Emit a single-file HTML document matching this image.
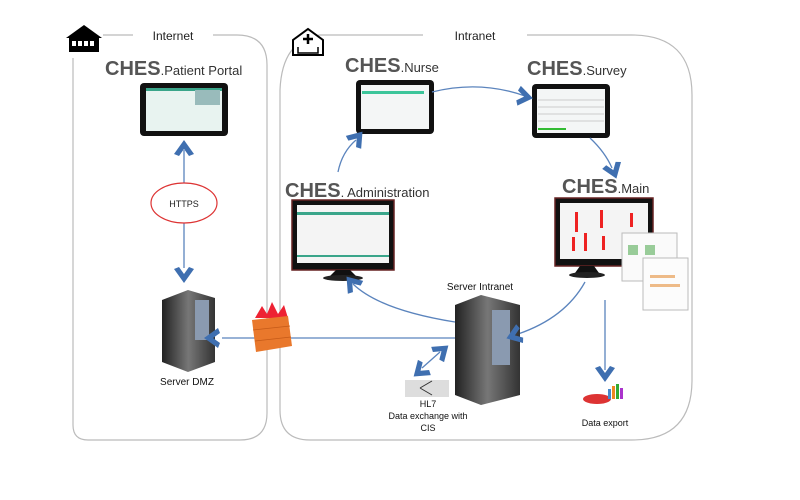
<!DOCTYPE html>
<html><head><meta charset="utf-8"><style>
html,body{margin:0;padding:0;background:#fff;width:800px;height:500px;overflow:hidden}
text{font-family:"Liberation Sans",sans-serif}
</style></head><body>
<svg width="800" height="500" viewBox="0 0 800 500" xmlns="http://www.w3.org/2000/svg">
<defs>
<path id="chev" d="M-10,7 L0,-7 L10,7 L5,9 L0,2 L-5,9 Z" fill="#3f6fb0"/>
<linearGradient id="srv" x1="0" x2="1"><stop offset="0" stop-color="#222"/><stop offset=".5" stop-color="#777"/><stop offset="1" stop-color="#333"/></linearGradient>
<g id="tab"><rect x="0" y="0" width="78" height="54" rx="4" fill="#111"/><rect x="5" y="5" width="68" height="44" fill="#f4f6f6"/></g>
</defs>
<path d="M73,58 V425 Q73,440 88,440 H240 Q267,440 267,413 V65 Q267,35 237,35 H213 M133,35 H103" fill="none" stroke="#bbb" stroke-width="1.2"/>
<path d="M280,90 V410 Q280,440 310,440 H632 Q692,440 692,380 V95 Q692,35 632,35 H527 M423,35 H320 Q282,40 280,90" fill="none" stroke="#bbb" stroke-width="1.2"/>
<text x="173" y="40" font-size="12" text-anchor="middle" fill="#222">Internet</text>
<text x="475" y="40" font-size="12" text-anchor="middle" fill="#222">Intranet</text>
<path d="M66,38 L84,25 L102,38 Z" fill="#000"/><rect x="69" y="37" width="30" height="15" fill="#000"/>
<rect x="72" y="41" width="4" height="5" fill="#fff"/><rect x="78" y="41" width="4" height="5" fill="#fff"/><rect x="84" y="41" width="4" height="5" fill="#fff"/><rect x="90" y="41" width="4" height="5" fill="#fff"/>
<path d="M293,55 V40 L308,29 L323,40 V55 Z" fill="#fff" stroke="#000" stroke-width="2"/>
<path d="M308,34 V44 M303,39 H313" stroke="#000" stroke-width="2.5"/><path d="M298,47 V53 H318 V47" fill="none" stroke="#000" stroke-width="1.5"/>
<g font-size="20" fill="#555" font-weight="bold">
<text x="105" y="75">CHES<tspan font-size="13" font-weight="normal" fill="#333">.Patient Portal</tspan></text>
<text x="345" y="72">CHES<tspan font-size="13" font-weight="normal" fill="#333">.Nurse</tspan></text>
<text x="527" y="75">CHES<tspan font-size="13" font-weight="normal" fill="#333">.Survey</tspan></text>
<text x="285" y="197">CHES<tspan font-size="13" font-weight="normal" fill="#333">. Administration</tspan></text>
<text x="562" y="193">CHES<tspan font-size="13" font-weight="normal" fill="#333">.Main</tspan></text>
</g>
<rect x="140" y="83" width="88" height="53" rx="4" fill="#111"/><rect x="146" y="88" width="76" height="43" fill="#e8f3f0"/><rect x="146" y="88" width="76" height="3" fill="#3aa58a"/><rect x="195" y="90" width="25" height="15" fill="#9bb"/>
<use href="#tab" x="356" y="80"/><rect x="362" y="91" width="62" height="3" fill="#3cc59a"/>
<use href="#tab" x="532" y="84"/><g stroke="#ccc"><path d="M538,100H604M538,107H604M538,114H604M538,121H604"/></g><rect x="538" y="128" width="28" height="2" fill="#3b3"/>
<rect x="292" y="200" width="102" height="70" fill="#111" stroke="#622" stroke-width="1.5"/><rect x="297" y="205" width="92" height="58" fill="#f4f4f4"/><rect x="297" y="212" width="92" height="3" fill="#3aa58a"/><rect x="297" y="255" width="92" height="2" fill="#3aa58a"/>
<path d="M336,270 h14 l6,6 h-26 z" fill="#111"/><ellipse cx="343" cy="278" rx="20" ry="3" fill="#222"/>
<rect x="555" y="198" width="98" height="68" fill="#111" stroke="#622" stroke-width="1.5"/><rect x="560" y="203" width="88" height="56" fill="#f4f4f4"/>
<g fill="#e22"><rect x="575" y="212" width="3" height="20"/><rect x="600" y="210" width="3" height="18"/><rect x="630" y="213" width="3" height="14"/><rect x="572" y="237" width="3" height="14"/><rect x="584" y="233" width="3" height="18"/><rect x="602" y="236" width="3" height="14"/></g>
<path d="M580,266 h14 l5,7 h-24 z" fill="#111"/><ellipse cx="587" cy="275" rx="18" ry="3" fill="#222"/>
<rect x="622" y="233" width="55" height="48" fill="#fafafa" stroke="#bbb"/><rect x="628" y="245" width="10" height="10" fill="#9c9"/><rect x="645" y="245" width="10" height="10" fill="#9c9"/>
<rect x="643" y="258" width="45" height="52" fill="#fcfcfc" stroke="#bbb"/><rect x="650" y="275" width="25" height="3" fill="#eb8"/><rect x="650" y="284" width="30" height="3" fill="#eb8"/>
<g fill="none" stroke="#5b84bd" stroke-width="1.3">
<path d="M184,150 V185 M184,223 V268"/>
<path d="M338,172 Q342,152 356,140"/>
<path d="M432,92 Q480,80 525,96"/>
<path d="M590,138 Q605,152 612,168"/>
<path d="M585,282 Q565,318 518,334"/>
<path d="M455,322 Q380,310 353,284"/>
<path d="M455,338 H222"/>
<path d="M605,300 V370"/>
<path d="M422,368 L440,352"/>
</g>
<path d="M162,300 L188,290 L215,298 V362 L188,372 L162,362 Z" fill="url(#srv)"/><rect x="195" y="300" width="14" height="40" fill="#8a9ab0"/>
<path d="M455,305 L481,295 L520,305 V395 L481,405 L455,395 Z" fill="url(#srv)"/><rect x="492" y="310" width="18" height="55" fill="#8a9ab0"/>
<ellipse cx="184" cy="203" rx="33" ry="20" fill="#fff" stroke="#d33" stroke-width="1.2"/>
<text x="184" y="207" font-size="9" text-anchor="middle" fill="#222">HTTPS</text>
<use href="#chev" transform="translate(184,147)"/>
<use href="#chev" transform="translate(184,276) rotate(180)"/>
<use href="#chev" transform="translate(358,137) rotate(40)"/>
<use href="#chev" transform="translate(526,97) rotate(100)"/>
<use href="#chev" transform="translate(614,172) rotate(160)"/>
<use href="#chev" transform="translate(513,336) rotate(-110)"/>
<use href="#chev" transform="translate(351,282) rotate(-40)"/>
<use href="#chev" transform="translate(211,338) rotate(-90)"/>
<use href="#chev" transform="translate(605,375) rotate(180)"/>
<use href="#chev" transform="translate(443,350) rotate(50)"/>
<use href="#chev" transform="translate(419,372) rotate(-130)"/>
<text x="187" y="385" font-size="10" text-anchor="middle" fill="#111">Server DMZ</text>
<text x="480" y="290" font-size="10" text-anchor="middle" fill="#111">Server Intranet</text>
<path d="M255,318 L262,306 L267,314 L272,302 L278,314 L284,305 L288,318 Z" fill="#e23"/>
<path d="M252,320 L288,316 L292,346 L256,352 Z" fill="#e9782c"/>
<g stroke="#c55a18" stroke-width=".8"><path d="M253,330 L290,326 M255,341 L291,337"/></g>
<rect x="405" y="380" width="44" height="17" fill="#ddd"/><path d="M420,388 L432,381 M420,388 L432,395" stroke="#333"/>
<text x="428" y="407" font-size="9" text-anchor="middle" fill="#111">HL7</text>
<text x="428" y="419" font-size="9" text-anchor="middle" fill="#111">Data exchange with</text>
<text x="428" y="431" font-size="9" text-anchor="middle" fill="#111">CIS</text>
<ellipse cx="597" cy="399" rx="14" ry="5" fill="#d33"/><rect x="608" y="389" width="3" height="10" fill="#48c"/><rect x="612" y="386" width="3" height="13" fill="#e82"/><rect x="616" y="384" width="3" height="15" fill="#3a3"/><rect x="620" y="388" width="3" height="11" fill="#a3c"/>
<text x="605" y="426" font-size="9" text-anchor="middle" fill="#111">Data export</text>
</svg>
</body></html>
